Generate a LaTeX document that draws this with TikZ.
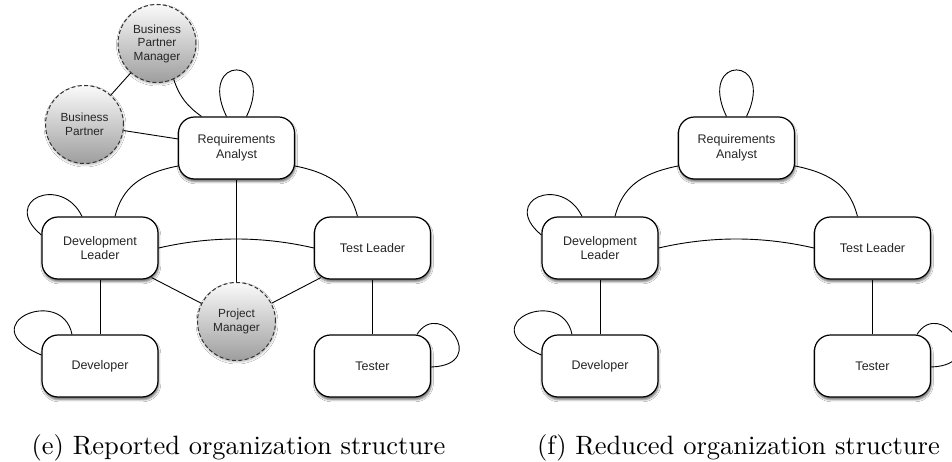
\documentclass[tikz,border=0pt]{standalone}
\usepackage{fontspec}
\newfontfamily\nodefont{Liberation Sans}
\usetikzlibrary{shadows.blur}

% Roles, links and self loops shared by both charts
\newcommand\orgchart{%
  \node[role] (ra)  at (236.5,148) {Requirements\\Analyst};
  \node[role] (dl)  at (100,248)   {Development\\Leader};
  \node[role] (tl)  at (372.5,248) {Test Leader};
  \node[role] (dev) at (100,366)   {Developer};
  \node[role] (tst) at (372.5,366) {Tester};
  % links between roles
  \draw[link] ([yshift=-18pt]ra.west) .. controls +(-40,8) and +(7,-27) .. ([xshift=15pt]dl.north);
  \draw[link] ([yshift=-18pt]ra.east) .. controls +(40,8) and +(-7,-27) .. ([xshift=-15pt]tl.north);
  \draw[link] (dl.east) .. controls +(52,-12) and +(-52,-12) .. (tl.west);
  \draw[link] (dl) -- (dev);
  \draw[link] (tl) -- (tst);
  % self loops
  \draw[link] ([xshift=-10pt]ra.north) .. controls +(-30,-62) and +(30,-62) .. ([xshift=10pt]ra.north);
  \draw[link] ([xshift=-18pt]dl.north) .. controls +(-20,-42) and +(-42,-35) .. ([yshift=13pt]dl.west);
  \draw[link] ([xshift=-28pt]dev.north) .. controls +(-10,-50) and +(-72,-30) .. ([yshift=11pt]dev.west);
  \draw[link] ([xshift=44.5pt]tst.north) .. controls +(23,-37) and +(60,-2) .. ([yshift=-1pt]tst.east);
}

\begin{document}
\begin{tikzpicture}[x=1pt,y=-1pt,
  role/.style={draw=black, line width=1.2pt, fill=white, rounded corners=16pt,
    minimum width=116pt, minimum height=62pt, inner sep=0pt, align=center,
    font=\nodefont\fontsize{12.5}{14.5}\selectfont, text=black!85,
    blur shadow={shadow xshift=0.8pt, shadow yshift=-2.8pt,
      shadow blur radius=2pt, shadow opacity=55}},
  ext/.style={circle, draw=black!80, dash pattern=on 4pt off 2.4pt, line width=1pt,
    top color=black!2, middle color=black!13, bottom color=black!38,
    minimum size=78pt, inner sep=0pt,
    align=center, font=\nodefont\fontsize{11.8}{13.5}\selectfont, text=black!85,
    blur shadow={shadow xshift=0.5pt, shadow yshift=-1.5pt,
      shadow blur radius=2pt, shadow opacity=30}},
  link/.style={draw=black, line width=0.9pt},
  subcap/.style={anchor=base, scale=2.65, font=\fontsize{10}{12}\selectfont}
]
\useasboundingbox[fill=white] (0,0) rectangle (952,462);

% reported structure
\begin{scope}[name prefix=e-]
  \orgchart
  \node[ext] (pm)  at (236.5,321.5) {Project\\Manager};
  \node[ext] (bpm) at (157,43.5)    {Business\\Partner\\Manager};
  \node[ext] (bp)  at (84.5,124.5)  {Business\\Partner};
  \draw[link] (bpm) -- (bp);
  \draw[link] (bpm.-65) .. controls +(6,18) and +(-14,-10) .. ([xshift=-35pt]ra.north);
  \draw[link] (bp) -- (ra);
  \draw[link] (ra) -- (pm);
  \draw[link] ([xshift=-7pt,yshift=2pt]dl.south east) -- (pm);
  \draw[link] ([xshift=7pt,yshift=2pt]tl.south west) -- (pm);
\end{scope}

% reduced structure
\begin{scope}[xshift=500pt, name prefix=f-]
  \orgchart
\end{scope}

\node[subcap] (capE) at (238.5,454) {(e) Reported organization structure};
\node[subcap] (capF) at (738.5,454) {(f) Reduced organization structure};
\end{tikzpicture}
\end{document}
